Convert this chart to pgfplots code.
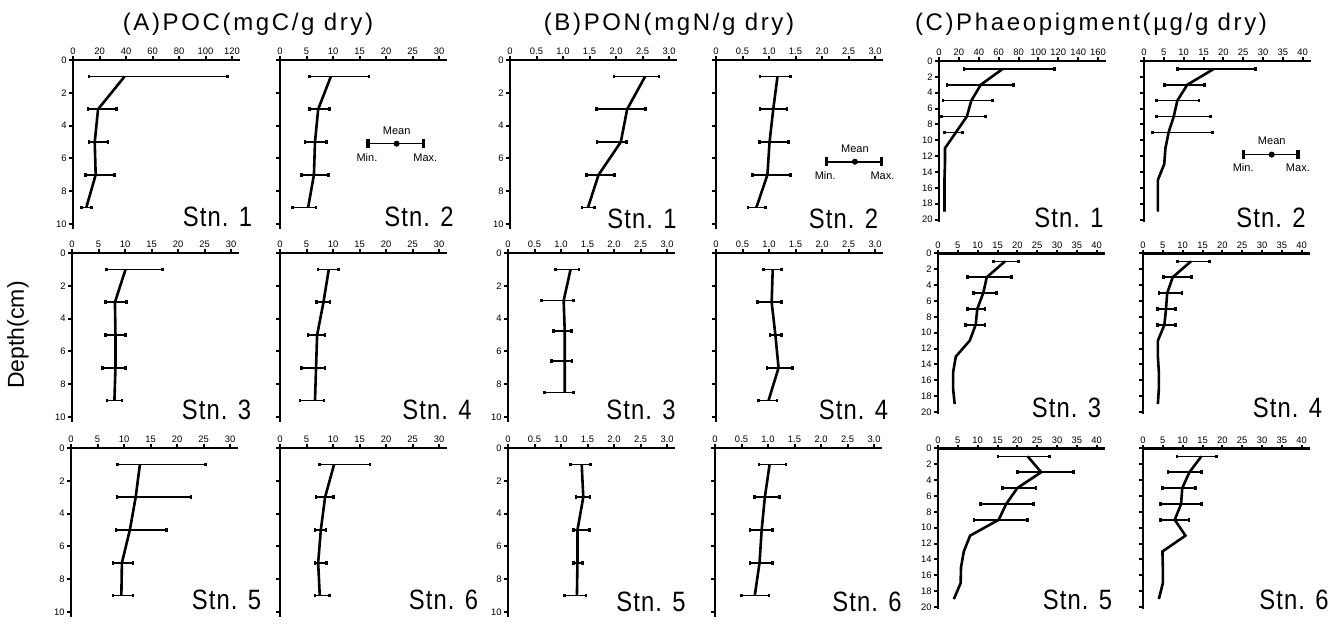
\documentclass[border=0pt]{standalone}
\usepackage{fontspec}
\setmainfont{Liberation Sans}
\newfontfamily\titlefont[LetterSpace=11]{Liberation Sans}
\newfontfamily\stnfont[FakeStretch=0.85,LetterSpace=4]{Liberation Sans}
\usepackage{pgfplots}
\usepackage{pgfplotstable}
\pgfplotsset{compat=1.18}

\newcommand\tickfont{\fontsize{4.7}{5}\selectfont}
\newcommand\legfont{\fontsize{5.5}{6}\selectfont}

% depth d, mean m, min l, max h
\pgfplotstableread{
d m l h
1 39 12 116.5
3 18.9 11.3 32.7
5 16.4 12 26.4
7 17.1 9.6 31.5
9 10 6.3 13.8
}\Aa
\pgfplotstableread{
d m l h
1 9.6 5.6 16.8
3 7.2 5.6 9.3
5 6.6 4.7 8.8
7 6.4 4.1 9.1
9 5.3 2.4 6.8
}\Ab
\pgfplotstableread{
d m l h
1 10.1 6.5 17.1
3 8.1 6.3 10.3
5 8.2 6.3 10.1
7 8.2 5.7 10.1
9 8.0 6.6 9.4
}\Ac
\pgfplotstableread{
d m l h
1 9.2 7.2 11.0
3 8.2 6.9 9.4
5 7.0 5.3 8.5
7 6.8 4.0 8.5
9 6.6 3.8 8.3
}\Ad
\pgfplotstableread{
d m l h
1 13.0 8.8 25.4
3 12.2 8.7 22.6
5 11.1 8.5 18.0
7 9.6 7.9 11.7
9 9.5 7.9 11.7
}\Ae
\pgfplotstableread{
d m l h
1 10.2 7.4 17.0
3 8.5 6.8 10.1
5 7.7 6.6 8.7
7 7.2 6.6 8.8
9 7.5 6.6 9.3
}\Af
\pgfplotstableread{
d m l h
1 2.55 1.96 2.81
3 2.21 1.63 2.56
5 2.09 1.64 2.20
7 1.67 1.44 1.97
9 1.47 1.36 1.59
}\Ba
\pgfplotstableread{
d m l h
1 1.16 0.83 1.40
3 1.08 0.83 1.34
5 1.01 0.82 1.37
7 0.97 0.69 1.41
9 0.76 0.60 0.93
}\Bb
\pgfplotstableread{
d m l h
1 1.18 0.90 1.34
2.9 1.05 0.63 1.23
4.75 1.07 0.86 1.20
6.6 1.07 0.82 1.21
8.5 1.07 0.69 1.24
}\Bc
\pgfplotstableread{
d m l h
1 1.07 0.90 1.24
3 1.05 0.78 1.24
5 1.12 1.02 1.24
7 1.18 0.96 1.44
9 0.99 0.80 1.15
}\Bd
\pgfplotstableread{
d m l h
1 1.39 1.18 1.56
3 1.42 1.28 1.55
5 1.31 1.23 1.54
7 1.31 1.23 1.41
9 1.30 1.07 1.47
}\Be
\pgfplotstableread{
d m l h
1 1.03 0.83 1.34
3 0.94 0.75 1.22
5 0.88 0.66 1.08
7 0.84 0.66 1.08
9 0.75 0.50 1.02
}\Bf
\pgfplotstableread{
d m l h
1 64 25 116
3 42 8 75
5 32.5 4 54
7 28 2.3 47
9 17 5.7 23.5
11 6 6 6
13 6 6 6
15 5.5 5.5 5.5
17 5.5 5.5 5.5
19 5.5 5.5 5.5
}\Ca
\pgfplotstableread{
d m l h
1 17.6 8.4 28.1
3 10.9 5.1 15.2
5 8.4 3.2 13.9
7 7.5 3.2 16.8
9 6.2 2.2 17.2
11 5.4 5.4 5.4
13 5.1 5.1 5.1
15 3.5 3.5 3.5
17 3.5 3.5 3.5
19 3.5 3.5 3.5
}\Cb
\pgfplotstableread{
d m l h
1 16.9 14.0 20.3
3 12.3 7.4 18.6
5 11.4 8.9 14.8
7 9.9 7.4 11.8
9 9.5 7.0 11.8
11 8.0 8.0 8.0
13 4.5 4.5 4.5
15 3.8 3.8 3.8
17 3.8 3.8 3.8
19 4.2 4.2 4.2
}\Cc
\pgfplotstableread{
d m l h
1 12.1 8.7 16.8
3 7.5 5.2 12.3
5 6.1 4.0 9.8
7 5.8 3.6 8.2
9 5.4 3.6 8.2
11 3.75 3.75 3.75
13 3.75 3.75 3.75
15 4.0 4.0 4.0
17 4.0 4.0 4.0
19 3.75 3.75 3.75
}\Cd
\pgfplotstableread{
d m l h
1 22.6 15.1 28.1
3 26.0 20.0 34.1
5 20.0 16.2 24.7
7 17.2 10.7 24.1
9 15.3 9.1 22.6
11 8.1 8.1 8.1
13 6.5 6.5 6.5
15 5.8 5.8 5.8
17 5.7 5.7 5.7
19 4.0 4.0 4.0
}\Ce
\pgfplotstableread{
d m l h
1 14.7 8.6 18.6
3 11.7 6.3 14.7
5 9.9 4.9 13.3
7 9.6 4.4 14.7
9 8.0 4.4 11.6
11 10.7 10.7 10.7
13 4.9 4.9 4.9
15 5.0 5.0 5.0
17 5.0 5.0 5.0
19 4.0 4.0 4.0
}\Cf

\pgfplotsset{
  panel/.style={
    scale only axis, anchor=north west, width=83.5pt,
    y dir=reverse, ymin=0, xmin=0,
    axis x line=top, axis y line=left,
    axis line style={-, line width=1.1pt, black},
    tick align=outside, major tick length=1.8pt,
    tick style={line width=1pt, black},
    ticklabel style={font=\tickfont},
    xticklabel style={inner sep=0.6pt},
    yticklabel style={inner sep=1.2pt},
    clip=false,
    /pgf/number format/assume math mode=true,
  },
  ab/.style={panel, height=84.5pt, ymax=10.3, ytick={0,2,...,10}},
  cc/.style={panel, height=80.5pt, ymax=20.3, ytick={0,2,...,20}},
  nolab/.style={yticklabel=\empty},
  xA1/.style={xmax=126, xtick={0,20,...,120}},
  xA/.style={xmax=31.5, xtick={0,5,...,30}},
  xB/.style={xmax=3.15, xtick={0,0.5,...,3}, xticklabels={0,0.5,1.0,1.5,2.0,2.5,3.0}},
  xC1/.style={xmax=168, xtick={0,20,...,160}},
  xC/.style={xmax=42.1, xtick={0,5,...,40}},
  meanline/.style={black, line width=1.3pt, mark=none},
  eb/.style={draw=none, mark=none,
    error bars/.cd, x dir=both, x explicit, error mark=|,
    error bar style={draw=black, line width=0.8pt},
    error mark options={draw=black, fill=black, line width=1.3pt, mark size=0.9pt}},
  legbar/.style={black, mark=*, mark size=1.3pt, error bars/.cd, x dir=both, x explicit,
    error mark=|, error bar style={line width=0.8pt},
    error mark options={line width=1.6pt, mark size=2.2pt}},
}
\newcommand\prof[1]{%
  \addplot[meanline] table[x=m,y=d]{#1};
  \addplot[eb] table[x=m,y=d,x error plus expr=\thisrow{h}-\thisrow{m},x error minus expr=\thisrow{m}-\thisrow{l}]{#1};}
\newcommand\profC[1]{%
  \addplot[meanline] table[x=m,y=d]{#1};
  \addplot[restrict y to domain=0:10, eb] table[x=m,y=d,x error plus expr=\thisrow{h}-\thisrow{m},x error minus expr=\thisrow{m}-\thisrow{l}]{#1};}

\begin{document}
\begin{tikzpicture}
\useasboundingbox (0,0) rectangle (670.5pt,-313pt);

% ---------- (A) POC ----------
\begin{axis}[ab, xA1, at={(36.5pt,-30pt)}]
\prof{\Aa}
\end{axis}
\begin{axis}[ab, xA, nolab, at={(140pt,-30pt)}]
\prof{\Ab}
\addplot[legbar] coordinates {(22,5.1) += (5,0) -= (5.4,0)};
\node[font=\legfont] at (axis cs:22,4.3) {Mean};
\node[font=\legfont] at (axis cs:16.4,5.95) {Min.};
\node[font=\legfont] at (axis cs:27.4,5.95) {Max.};
\end{axis}
\begin{axis}[ab, xA, at={(36pt,-126.5pt)}]
\prof{\Ac}
\end{axis}
\begin{axis}[ab, xA, nolab, at={(140pt,-126.5pt)}]
\prof{\Ad}
\end{axis}
\begin{axis}[ab, xA, at={(35.5pt,-224pt)}]
\prof{\Ae}
\end{axis}
\begin{axis}[ab, xA, nolab, at={(140pt,-224pt)}]
\prof{\Af}
\end{axis}

% ---------- (B) PON ----------
\begin{axis}[ab, xB, at={(255pt,-30pt)}]
\prof{\Ba}
\end{axis}
\begin{axis}[ab, xB, nolab, at={(358pt,-30pt)}]
\prof{\Bb}
\addplot[legbar] coordinates {(2.62,6.2) += (0.5,0) -= (0.54,0)};
\node[font=\legfont] at (axis cs:2.62,5.4) {Mean};
\node[font=\legfont] at (axis cs:2.06,7.05) {Min.};
\node[font=\legfont] at (axis cs:3.14,7.05) {Max.};
\end{axis}
\begin{axis}[ab, xB, at={(254pt,-126.5pt)}]
\prof{\Bc}
\end{axis}
\begin{axis}[ab, xB, nolab, at={(358pt,-126.5pt)}]
\prof{\Bd}
\end{axis}
\begin{axis}[ab, xB, at={(254pt,-224pt)}]
\prof{\Be}
\end{axis}
\begin{axis}[ab, xB, nolab, at={(357.5pt,-224pt)}]
\prof{\Bf}
\end{axis}

% ---------- (C) Phaeopigment ----------
\begin{axis}[cc, xC1, at={(469.5pt,-30.5pt)}]
\profC{\Ca}
\end{axis}
\begin{axis}[cc, xC, nolab, at={(572pt,-30.5pt)}]
\profC{\Cb}
\addplot[legbar] coordinates {(32.2,11.8) += (6.6,0) -= (7.2,0)};
\node[font=\legfont] at (axis cs:32.2,10.1) {Mean};
\node[font=\legfont] at (axis cs:25,13.4) {Min.};
\node[font=\legfont] at (axis cs:38.8,13.4) {Max.};
\end{axis}
\begin{axis}[cc, xC, at={(469pt,-126.7pt)}]
\profC{\Cc}
\end{axis}
\begin{axis}[cc, xC, nolab, at={(571.5pt,-126.7pt)}]
\profC{\Cd}
\end{axis}
\begin{axis}[cc, xC, at={(469pt,-224.2pt)}]
\profC{\Ce}
\end{axis}
\begin{axis}[cc, xC, nolab, at={(571.5pt,-224.2pt)}]
\profC{\Cf}
\end{axis}

% ---------- titles and labels ----------
\node[font=\titlefont\fontsize{12}{14}\selectfont] at (124pt,-12pt) {(A)POC(mgC/g dry)};
\node[font=\titlefont\fontsize{12}{14}\selectfont] at (334.5pt,-12pt) {(B)PON(mgN/g dry)};
\node[font=\titlefont\fontsize{12}{14}\selectfont] at (545.5pt,-12pt) {(C)Phaeopigment(µg/g dry)};
\node[font=\fontsize{11.5}{13}\selectfont, rotate=90] at (9pt,-167.5pt) {Depth(cm)};

\begin{scope}[every node/.style={font=\stnfont\fontsize{14}{16}\selectfont}]
\node at (108.75pt,-108.5pt) {Stn. 1};
\node at (209.5pt,-108.5pt) {Stn. 2};
\node at (108.25pt,-205pt) {Stn. 3};
\node at (218.5pt,-205pt) {Stn. 4};
\node at (113.25pt,-300pt) {Stn. 5};
\node at (221.75pt,-300pt) {Stn. 6};
\node at (321pt,-109.5pt) {Stn. 1};
\node at (421.75pt,-109.5pt) {Stn. 2};
\node at (320.5pt,-205pt) {Stn. 3};
\node at (426.75pt,-205pt) {Stn. 4};
\node at (325.5pt,-301pt) {Stn. 5};
\node at (433.5pt,-301pt) {Stn. 6};
\node at (534.5pt,-109pt) {Stn. 1};
\node at (635.5pt,-109pt) {Stn. 2};
\node at (533.25pt,-204pt) {Stn. 3};
\node at (643.75pt,-204pt) {Stn. 4};
\node at (538.75pt,-300pt) {Stn. 5};
\node at (647pt,-300pt) {Stn. 6};
\end{scope}
\end{tikzpicture}
\end{document}
